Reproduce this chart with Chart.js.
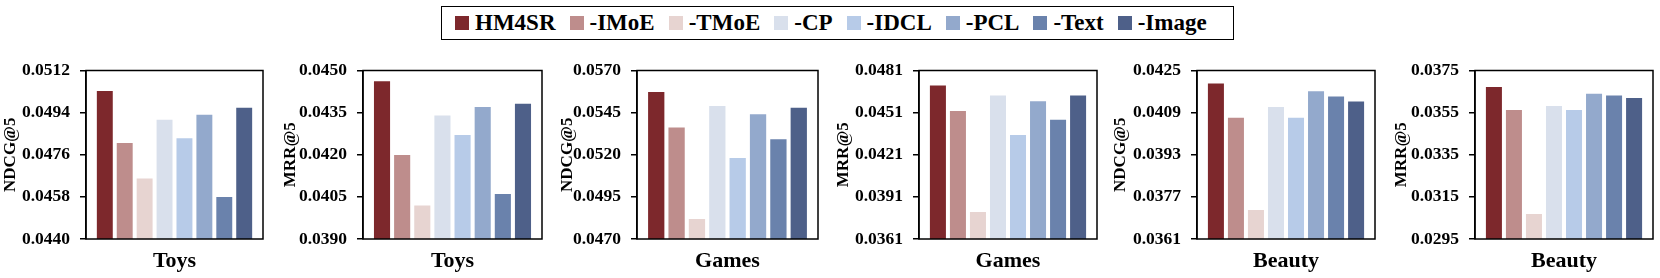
<!DOCTYPE html>
<html>
<head>
<meta charset="utf-8">
<script src="https://cdn.jsdelivr.net/npm/chart.js@4.4.1/dist/chart.umd.min.js"></script>
<style>
  html, body { margin: 0; padding: 0; background: #fff; }
  body { width: 1660px; height: 278px; position: relative; overflow: hidden; font-family: "Liberation Serif", serif; }
  #legend {
    position: absolute; left: 441px; top: 6px; width: 793px; height: 34px;
    box-sizing: border-box; border: 1.5px solid #000;
    display: flex; align-items: center; padding-left: 13px;
    font-weight: bold; font-size: 23px; white-space: nowrap;
  }
  .item { display: flex; align-items: center; margin-right: 14px; }
  .swatch { width: 14px; height: 14px; margin-right: 6px; }
  .panel { position: absolute; top: 50px; }
</style>
</head>
<body>
<div id="legend"></div>

<script>
/* =========================
   DATA
========================= */
const categories = ["Toys", "Toys", "Games", "Games", "Beauty", "Beauty"];
const metrics = ["NDCG@5", "MRR@5", "NDCG@5", "MRR@5", "NDCG@5", "MRR@5"];
const variants = ["HM4SR", "-IMoE", "-TMoE", "-CP", "-IDCL", "-PCL", "-Text", "-Image"];

// one value per panel, in panel order
const hm4sr = [0.05032, 0.04462, 0.05572, 0.04703, 0.04201, 0.03672];
const imoe  = [0.04810, 0.04199, 0.05361, 0.04522, 0.04071, 0.03563];
const tmoe  = [0.04659, 0.04019, 0.04818, 0.03802, 0.03720, 0.03069];
const cp    = [0.04910, 0.04340, 0.05490, 0.04632, 0.04111, 0.03581];
const idcl  = [0.04831, 0.04270, 0.05180, 0.04351, 0.04071, 0.03562];
const pcl   = [0.04931, 0.04370, 0.05441, 0.04591, 0.04171, 0.03640];
const text  = [0.04580, 0.04060, 0.05292, 0.04460, 0.04151, 0.03631];
const image = [0.04961, 0.04382, 0.05479, 0.04632, 0.04132, 0.03620];

const yTicks = [
  [0.0440, 0.0458, 0.0476, 0.0494, 0.0512],
  [0.0390, 0.0405, 0.0420, 0.0435, 0.0450],
  [0.0470, 0.0495, 0.0520, 0.0545, 0.0570],
  [0.0361, 0.0391, 0.0421, 0.0451, 0.0481],
  [0.0361, 0.0377, 0.0393, 0.0409, 0.0425],
  [0.0295, 0.0315, 0.0335, 0.0355, 0.0375],
];

/* =========================
   STYLE / LAYOUT
========================= */
const seriesValues = [hm4sr, imoe, tmoe, cp, idcl, pcl, text, image];
const colors = ["#7d282c", "#be8d8c", "#e7d4d1", "#d9e0ec", "#b7cbe8", "#93a9cc", "#6a82ac", "#4e6089"];

const plotLeft  = [86, 363, 637, 919, 1197, 1475];
const plotWidth = [177, 179, 181, 178, 178, 178];
const axisWidth = [86, 83, 80, 86, 87, 84];

const FONT = "'Liberation Serif', 'Times New Roman', serif";
const PANEL_H = 228;

/* =========================
   LEGEND
========================= */
const legend = document.getElementById("legend");
variants.forEach((name, i) => {
  const item = document.createElement("div");
  item.className = "item";
  item.innerHTML = `<span class="swatch" style="background:${colors[i]}"></span><span>${name}</span>`;
  legend.appendChild(item);
});

/* =========================
   FRAME PLUGIN (box round plot)
========================= */
const framePlugin = {
  id: "frame",
  afterDraw(chart) {
    const { ctx, chartArea: a } = chart;
    ctx.save();
    ctx.strokeStyle = "#000";
    ctx.lineWidth = 1.5;
    ctx.strokeRect(a.left, a.top, a.right - a.left, a.bottom - a.top);
    ctx.restore();
  },
};

/* =========================
   PANELS
========================= */
function drawPanel(p) {
  const div = document.createElement("div");
  div.className = "panel";
  const w = axisWidth[p] + plotWidth[p] + 2;
  div.style.left = (plotLeft[p] - axisWidth[p]) + "px";
  div.style.width = w + "px";
  div.style.height = PANEL_H + "px";
  const canvas = document.createElement("canvas");
  canvas.width = w;
  canvas.height = PANEL_H;
  div.appendChild(canvas);
  document.body.appendChild(div);

  const ticks = yTicks[p];

  new Chart(canvas, {
    type: "bar",
    data: {
      labels: [categories[p]],
      datasets: variants.map((name, i) => ({
        label: name,
        data: [seriesValues[i][p]],
        backgroundColor: colors[i],
        borderWidth: 0,
        categoryPercentage: 0.9,
        barPercentage: 0.8,
      })),
    },
    options: {
      responsive: false,
      animation: false,
      devicePixelRatio: 1,
      layout: { padding: { left: 0, right: 2, top: 14, bottom: 0 } },
      plugins: { legend: { display: false }, tooltip: { enabled: false } },
      scales: {
        x: {
          grid: { display: false },
          border: { display: false },
          ticks: { display: false },
          title: {
            display: true,
            text: categories[p],
            color: "#000",
            font: { family: FONT, size: 22, weight: "bold" },
            padding: { top: 0, bottom: 3 },
          },
          afterFit(scale) { scale.height = 39; },
        },
        y: {
          min: ticks[0],
          max: ticks[ticks.length - 1],
          afterBuildTicks(scale) { scale.ticks = ticks.map(v => ({ value: v })); },
          afterFit(scale) { scale.width = axisWidth[p]; },
          grid: {
            display: true,
            drawOnChartArea: false,
            drawTicks: true,
            tickLength: 6,
            color: "#000",
            lineWidth: 1.5,
          },
          border: { display: true, color: "#000", width: 1.5 },
          ticks: {
            color: "#000",
            padding: 10,
            font: { family: FONT, size: 17.5, weight: "bold" },
            callback: v => Number(v).toFixed(4),
          },
          title: {
            display: true,
            text: metrics[p],
            color: "#000",
            font: { family: FONT, size: 17, weight: "bold" },
            padding: 0,
          },
        },
      },
    },
    plugins: [framePlugin],
  });
}

for (let p = 0; p < categories.length; p++) drawPanel(p);
</script>
</body>
</html>
